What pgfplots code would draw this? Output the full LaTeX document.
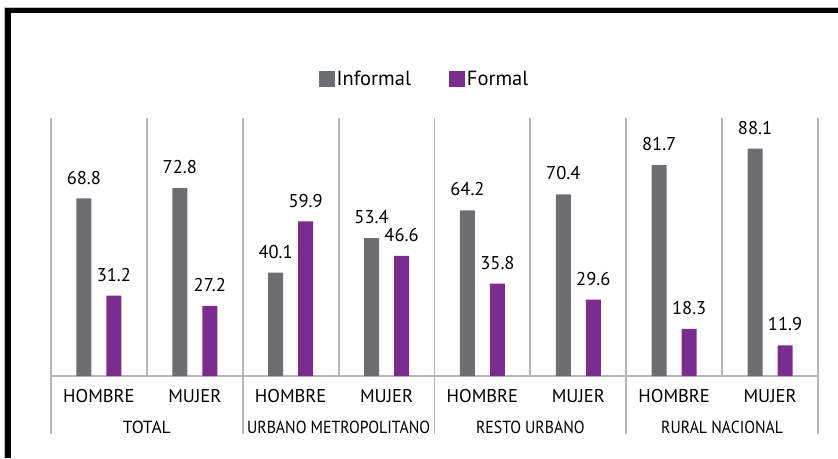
\documentclass[border=0pt]{standalone}
\usepackage{pgfplots}
\pgfplotsset{compat=1.18}
\usepackage{fontspec}
\setmainfont{PT Sans}
\definecolor{infgray}{HTML}{6D6E71}
\definecolor{formpurple}{HTML}{7A2D8F}
\definecolor{divgray}{HTML}{B5B5B8}
\newcommand{\lblfont}{\fontsize{18.5}{20}\selectfont}
\newcommand{\grpfont}{\fontsize{17.5}{19}\selectfont}

\begin{document}
\begin{tikzpicture}[x=1pt,y=1pt]
\path[use as bounding box] (0,0) rectangle (838,458);
% frame
\draw[black!25, line width=0.8pt] (4,0) -- (4,451) -- (838,451);
\draw[black, line width=5.5pt, line join=miter] (8,0) -- (8,447.5) -- (838,447.5);

\begin{axis}[
    at={(51pt,82pt)}, anchor=south west,
    width=767pt, height=258pt, scale only axis,
    xmin=-0.5, xmax=7.5, ymin=0, ymax=100,
    axis line style={draw=none},
    tick style={draw=none},
    ytick=\empty,
    xtick={0,...,7},
    xticklabels={HOMBRE,MUJER,HOMBRE,MUJER,HOMBRE,MUJER,HOMBRE,MUJER},
    xticklabel style={font=\lblfont, anchor=base, inner sep=0pt, yshift=-22pt},
    typeset ticklabels with strut=false,
    clip=false,
    ybar=15pt, bar width=15pt,
    nodes near coords,
    every node near coord/.append style={font=\lblfont, anchor=south, inner sep=0pt, yshift=14pt, text=black},
    /pgf/number format/.cd, fixed, precision=1, assume math mode=true,
    /pgfplots/.cd,
    legend columns=2,
    legend style={at={(axis description cs:0.487,1.151)}, anchor=center,
        draw=none, fill=none, font=\fontsize{20.5}{22}\selectfont,
        /tikz/every even column/.append style={column sep=36pt}},
    legend image code/.code={\fill[#1, draw=none] (0pt,-8pt) rectangle (16pt,8pt);},
]
% dividers
\draw[divgray, line width=1.8pt] (axis cs:-0.5,100) -- ([yshift=-58pt]axis cs:-0.5,0);
\draw[divgray, line width=1.8pt] (axis cs:1.5,100) -- ([yshift=-58pt]axis cs:1.5,0);
\draw[divgray, line width=1.8pt] (axis cs:3.5,100) -- ([yshift=-58pt]axis cs:3.5,0);
\draw[divgray, line width=1.8pt] (axis cs:5.5,100) -- ([yshift=-58pt]axis cs:5.5,0);
\draw[divgray, line width=1.8pt] (axis cs:7.5,100) -- ([yshift=-58pt]axis cs:7.5,0);
\draw[divgray, line width=1.8pt] (axis cs:0.5,100) -- (axis cs:0.5,0);
\draw[divgray, line width=1.8pt] (axis cs:2.5,100) -- (axis cs:2.5,0);
\draw[divgray, line width=1.8pt] (axis cs:4.5,100) -- (axis cs:4.5,0);
\draw[divgray, line width=1.8pt] (axis cs:6.5,100) -- (axis cs:6.5,0);
\draw[divgray, line width=1.8pt] (axis cs:-0.5,0) -- (axis cs:7.5,0);

\addplot[fill=infgray, draw=none] coordinates {
    (0,68.8) (1,72.8) (2,40.1) (3,53.4) (4,64.2) (5,70.4) (6,81.7) (7,88.1)
};
\addlegendentry{Informal}
\addplot[fill=formpurple, draw=none] coordinates {
    (0,31.2) (1,27.2) (2,59.9) (3,46.6) (4,35.8) (5,29.6) (6,18.3) (7,11.9)
};
\addlegendentry{Formal}

% group labels
\node[font=\grpfont, anchor=base] at ([yshift=-57pt]axis cs:0.5,0) {TOTAL};
\node[font=\grpfont, anchor=base] at ([yshift=-57pt]axis cs:2.5,0) {\scalebox{0.9}[1]{URBANO METROPOLITANO}};
\node[font=\grpfont, anchor=base] at ([yshift=-57pt]axis cs:4.5,0) {\scalebox{0.9}[1]{RESTO URBANO}};
\node[font=\grpfont, anchor=base] at ([yshift=-57pt]axis cs:6.5,0) {\scalebox{0.9}[1]{RURAL NACIONAL}};
\end{axis}
\end{tikzpicture}
\end{document}
